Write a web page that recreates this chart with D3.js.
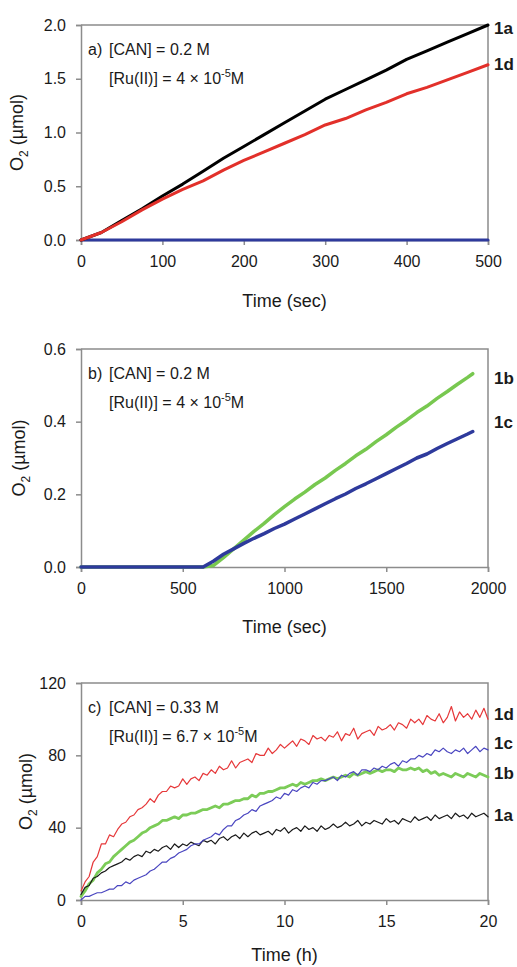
<!DOCTYPE html>
<html>
<head>
<meta charset="utf-8">
<script src="https://cdn.jsdelivr.net/npm/d3@7"></script>
<style>
body { margin: 0; background: #fff; }
svg text { font-family: "Liberation Sans", Arial, sans-serif; fill: #1a1a1a; }
.axis path, .axis line { stroke: #8c8c8c; stroke-width: 1.5; }
.axis text { font-size: 16px; fill: #1a1a1a; }
.frame { stroke: #8c8c8c; stroke-width: 1.5; fill: none; }
.line { fill: none; stroke-linejoin: round; stroke-linecap: round; }
</style>
</head>
<body>
<div id="chart-area"></div>
<script>
// O2 evolution, three panels

// ---- panel a data (sec, umol)
const timeA = d3.range(0, 501, 25)
const a1a = [0, 0.07, 0.18, 0.29, 0.41, 0.52, 0.64, 0.76, 0.87, 0.98, 1.09, 1.20, 1.31, 1.40, 1.49, 1.58, 1.68, 1.76, 1.84, 1.92, 2.00]
const a1d = [0, 0.07, 0.17, 0.28, 0.38, 0.47, 0.55, 0.65, 0.74, 0.82, 0.90, 0.98, 1.07, 1.13, 1.21, 1.28, 1.36, 1.42, 1.49, 1.56, 1.63]
const aFlat = [0, 0, 0, 0, 0, 0, 0, 0, 0, 0, 0, 0, 0, 0, 0, 0, 0, 0, 0, 0, 0]

// ---- panel b data (sec, umol)
const timeB = [0, 100, 200, 300, 400, 500, 600, 650, 700, 750, 800, 850, 900, 950, 1000, 1050, 1100, 1150, 1200, 1250, 1300, 1350, 1400, 1450, 1500, 1550, 1600, 1650, 1700, 1750, 1800, 1850, 1900, 1925]
const b1b = [0, 0, 0, 0, 0, 0, 0, 0.004, 0.026, 0.05, 0.074, 0.098, 0.12, 0.144, 0.166, 0.187, 0.206, 0.227, 0.245, 0.266, 0.285, 0.306, 0.324, 0.345, 0.364, 0.385, 0.404, 0.425, 0.443, 0.464, 0.483, 0.503, 0.522, 0.532]
const b1c = [0, 0, 0, 0, 0, 0, 0, 0.016, 0.035, 0.05, 0.065, 0.079, 0.092, 0.106, 0.118, 0.132, 0.146, 0.16, 0.174, 0.188, 0.201, 0.216, 0.229, 0.243, 0.257, 0.271, 0.285, 0.3, 0.311, 0.326, 0.34, 0.353, 0.366, 0.373]

// ---- panel c data (h, umol), one reading every 0.2 h
const timeC = d3.range(0, 101).map(i => i / 5)
const c1d = [5, 10, 13, 21, 24, 31, 31, 36, 35, 39, 42, 43, 46, 47, 50, 51, 53, 56, 54, 58,
  60, 60, 63, 62, 63, 67, 64, 67, 68, 66, 70, 69, 72, 70, 74, 72, 73, 77, 73, 76,
  77, 78, 76, 81, 80, 80, 84, 81, 83, 86, 84, 86, 88, 85, 89, 88, 86, 91, 89, 90,
  88, 91, 90, 93, 88, 92, 91, 95, 89, 92, 93, 94, 91, 96, 94, 95, 97, 94, 98, 97,
  95, 100, 98, 100, 97, 102, 100, 99, 103, 98, 101, 107, 99, 104, 101, 103, 100, 105, 101, 106, 100]
const c1a = [3, 7, 8, 12, 13, 15, 16, 18, 19, 20, 21, 23, 22, 24, 25, 24, 27, 26, 28, 27,
  29, 30, 28, 31, 29, 31, 30, 32, 31, 30, 33, 32, 33, 31, 34, 35, 33, 35, 36, 34,
  37, 35, 37, 38, 36, 37, 38, 36, 39, 38, 40, 37, 39, 40, 38, 41, 39, 40, 38, 41,
  39, 40, 42, 40, 41, 43, 41, 42, 44, 41, 43, 42, 44, 43, 42, 45, 43, 44, 42, 45,
  44, 43, 46, 44, 45, 46, 44, 47, 45, 46, 47, 45, 48, 46, 47, 45, 48, 46, 47, 48, 46]
const c1b = [2, 5, 9, 11, 15, 17, 20, 21, 24, 26, 28, 30, 32, 33, 35, 37, 38, 40, 41, 42,
  44, 44, 45, 46, 45, 47, 47, 48, 48, 49, 50, 50, 51, 52, 51, 53, 53, 54, 55, 55,
  56, 56, 58, 57, 59, 59, 60, 60, 61, 62, 62, 63, 64, 63, 65, 64, 65, 66, 66, 67,
  66, 67, 68, 67, 68, 69, 68, 70, 69, 70, 71, 70, 71, 72, 71, 72, 72, 71, 73, 72,
  72, 73, 72, 73, 71, 72, 70, 71, 69, 70, 69, 68, 70, 69, 68, 70, 69, 68, 70, 69, 68]
const c1c = [0, 2, 2, 3, 4, 4, 5, 6, 6, 8, 8, 10, 9, 11, 12, 13, 14, 16, 17, 19,
  21, 21, 23, 24, 26, 27, 28, 30, 31, 31, 33, 34, 35, 37, 36, 39, 41, 41, 44, 45,
  47, 48, 50, 49, 52, 53, 54, 55, 57, 56, 59, 58, 61, 60, 62, 63, 62, 65, 64, 66,
  66, 67, 68, 66, 69, 68, 70, 71, 69, 72, 72, 71, 73, 72, 74, 73, 75, 76, 74, 77,
  76, 78, 78, 80, 79, 81, 80, 83, 82, 84, 82, 81, 83, 82, 84, 81, 83, 85, 82, 84, 83]

const PLOT_LEFT = 81
const PLOT_RIGHT = 488

const panels = [
  {
    top: 25, bottom: 240,
    x: [0, 500], xTicks: [0, 100, 200, 300, 400, 500], xFmt: d3.format("d"),
    y: [0, 2], yTicks: [0, 0.5, 1, 1.5, 2], yFmt: d3.format(".1f"),
    xTitle: "Time (sec)", xTitleDy: 67, yTitleX: 23,
    tag: "a)", can: "[CAN] = 0.2 M", ru: "[Ru(II)] = 4 \u00d7 10", ruEnd: "M",
    series: [
      { t: timeA, v: aFlat, color: "#2e3a9c", w: 3 },
      { t: timeA, v: a1a, color: "#000000", w: 3 },
      { t: timeA, v: a1d, color: "#e2302a", w: 3 }
    ],
    labels: [{ text: "1a", at: 1.97 }, { text: "1d", at: 1.64 }]
  },
  {
    top: 349, bottom: 567,
    x: [0, 2000], xTicks: [0, 500, 1000, 1500, 2000], xFmt: d3.format("d"),
    y: [0, 0.6], yTicks: [0, 0.2, 0.4, 0.6], yFmt: d3.format(".1f"),
    xTitle: "Time (sec)", xTitleDy: 66, yTitleX: 25,
    tag: "b)", can: "[CAN] = 0.2 M", ru: "[Ru(II)] = 4 \u00d7 10", ruEnd: "M",
    series: [
      { t: timeB, v: b1b, color: "#78c850", w: 3.5 },
      { t: timeB, v: b1c, color: "#2e3a9c", w: 3.5 }
    ],
    labels: [{ text: "1b", at: 0.52 }, { text: "1c", at: 0.4 }]
  },
  {
    top: 683, bottom: 900,
    x: [0, 20], xTicks: [0, 5, 10, 15, 20], xFmt: d3.format("d"),
    y: [0, 120], yTicks: [0, 40, 80, 120], yFmt: d3.format("d"),
    xTitle: "Time (h)", xTitleDy: 61, yTitleX: 32,
    tag: "c)", can: "[CAN] = 0.33 M", ru: "[Ru(II)] = 6.7 \u00d7 10", ruEnd: "M",
    series: [
      { t: timeC, v: c1b, color: "#7ccc58", w: 2.8 },
      { t: timeC, v: c1a, color: "#1a1a1a", w: 1.2 },
      { t: timeC, v: c1c, color: "#4a46c0", w: 1.2 },
      { t: timeC, v: c1d, color: "#e6383a", w: 1.2 }
    ],
    labels: [{ text: "1d", at: 103 }, { text: "1c", at: 87 }, { text: "1b", at: 70 }, { text: "1a", at: 47 }]
  }
]

const svg = d3.select("#chart-area").append("svg")
  .attr("width", 517)
  .attr("height", 967)

panels.forEach(p => drawPanel(p))

function drawPanel(p) {
  const x = d3.scaleLinear().domain(p.x).range([PLOT_LEFT, PLOT_RIGHT])
  const y = d3.scaleLinear().domain(p.y).range([p.bottom, p.top])
  const g = svg.append("g")

  // frame top + right
  g.append("path")
    .attr("class", "frame")
    .attr("d", `M${PLOT_LEFT},${p.top}H${PLOT_RIGHT}V${p.bottom}`)

  g.append("g")
    .attr("class", "axis")
    .attr("transform", `translate(0, ${p.bottom})`)
    .call(d3.axisBottom(x).tickValues(p.xTicks).tickFormat(p.xFmt).tickSizeOuter(0).tickSize(5).tickPadding(11))

  g.append("g")
    .attr("class", "axis")
    .attr("transform", `translate(${PLOT_LEFT}, 0)`)
    .call(d3.axisLeft(y).tickValues(p.yTicks).tickFormat(p.yFmt).tickSizeOuter(0).tickSize(5).tickPadding(10))

  const line = d3.line()
    .x(d => x(d[0]))
    .y(d => y(d[1]))

  p.series.forEach(s => {
    g.append("path")
      .attr("class", "line")
      .attr("d", line(s.t.map((t, i) => [t, s.v[i]])))
      .attr("stroke", s.color)
      .attr("stroke-width", s.w)
  })

  // end labels
  p.labels.forEach(l => {
    g.append("text")
      .attr("x", PLOT_RIGHT + 6)
      .attr("y", y(l.at) + 6)
      .attr("font-size", "17px")
      .attr("font-weight", "bold")
      .text(l.text)
  })

  // conditions note
  g.append("text")
    .attr("x", 88)
    .attr("y", p.top + 30)
    .attr("font-size", "16px")
    .text(p.tag)
  g.append("text")
    .attr("x", 109)
    .attr("y", p.top + 30)
    .attr("font-size", "16px")
    .text(p.can)
  const ru = g.append("text")
    .attr("x", 109)
    .attr("y", p.top + 59)
    .attr("font-size", "16px")
  ru.append("tspan").text(p.ru)
  ru.append("tspan").attr("dy", -7).attr("font-size", "11px").text("-5")
  ru.append("tspan").attr("dy", 7).text(p.ruEnd)

  // axis titles
  g.append("text")
    .attr("x", (PLOT_LEFT + PLOT_RIGHT) / 2)
    .attr("y", p.bottom + p.xTitleDy)
    .attr("font-size", "18px")
    .attr("text-anchor", "middle")
    .text(p.xTitle)

  const yt = g.append("text")
    .attr("transform", `translate(${p.yTitleX}, ${(p.top + p.bottom) / 2}) rotate(-90)`)
    .attr("font-size", "18px")
    .attr("text-anchor", "middle")
  yt.append("tspan").text("O")
  yt.append("tspan").attr("dy", 5).attr("font-size", "12px").text("2")
  yt.append("tspan").attr("dy", -5).text(" (\u00b5mol)")
}
</script>
</body>
</html>
